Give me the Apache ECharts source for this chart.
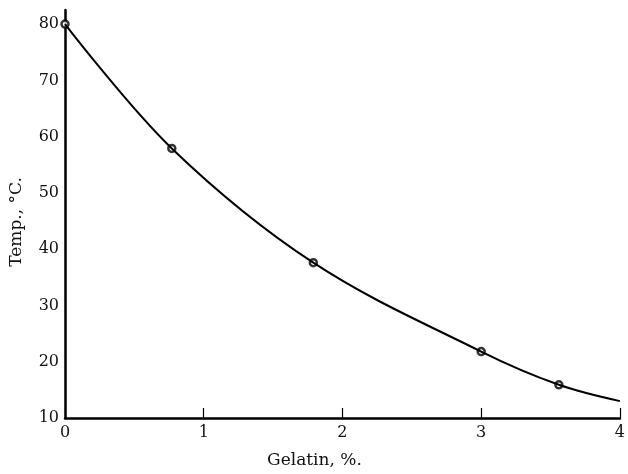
<!DOCTYPE html>
<html>
<head>
<meta charset="utf-8">
<script src="https://cdn.jsdelivr.net/npm/echarts@6/dist/echarts.min.js"></script>
<style>html,body{margin:0;padding:0;background:#fff;}#c{width:628px;height:474px;}</style>
</head>
<body>
<div id="c"></div>
<script>
var gelatin = [0, 0.77, 1.79, 3.0, 3.56];
var temp = [80, 57.9, 37.6, 21.8, 15.9];
var curveX = [0, 0.77, 1.79, 3.0, 3.56, 4.0];
var curveY = [80, 57.9, 37.6, 21.8, 15.9, 13.0];
var xTicks = [0, 1, 2, 3, 4];
var yTicks = [10, 20, 30, 40, 50, 60, 70, 80];

var font = 'DejaVu Serif';
var chart = echarts.init(document.getElementById('c'), null, {renderer: 'canvas'});
chart.setOption({
  animation: false,
  backgroundColor: '#fff',
  grid: {left: 63, right: 5, top: 10, bottom: 55},
  xAxis: {
    type: 'value', min: 0, max: 4, interval: 1,
    name: 'Gelatin, %.', nameLocation: 'middle', nameGap: 34,
    nameTextStyle: {fontFamily: font, fontSize: 17, color: '#111', padding: [0, 56, 0, 0]},
    axisLine: {lineStyle: {color: '#000', width: 2.5}},
    axisTick: {inside: true, length: 10, lineStyle: {color: '#000', width: 1.2}},
    axisLabel: {fontFamily: font, fontSize: 16, color: '#111', margin: 7,
      formatter: function(v){ return xTicks.indexOf(v) >= 0 ? String(v) : ''; }},
    splitLine: {show: false}
  },
  yAxis: {
    type: 'value', min: 10, max: 82.5, interval: 10,
    name: 'Temp., °C.', nameLocation: 'middle', nameGap: 40, nameRotate: 90,
    nameTextStyle: {fontFamily: font, fontSize: 17, color: '#111', padding: [0, 16, 0, 0]},
    axisLine: {lineStyle: {color: '#000', width: 2.5}},
    axisTick: {show: false},
    axisLabel: {fontFamily: font, fontSize: 16, color: '#111', margin: 6,
      formatter: function(v){ return yTicks.indexOf(v) >= 0 ? String(v) : ''; }},
    splitLine: {show: false}
  },
  series: [
    {
      type: 'line', smooth: 0.35, symbol: 'none',
      data: curveX.map(function(x, i){ return [x, curveY[i]]; }),
      lineStyle: {color: '#000', width: 2}
    },
    {
      type: 'scatter', symbol: 'circle', symbolSize: 7,
      data: gelatin.map(function(x, i){ return [x, temp[i]]; }),
      itemStyle: {color: '#fff', borderColor: '#000', borderWidth: 2.5}
    }
  ]
});
</script>
</body>
</html>
